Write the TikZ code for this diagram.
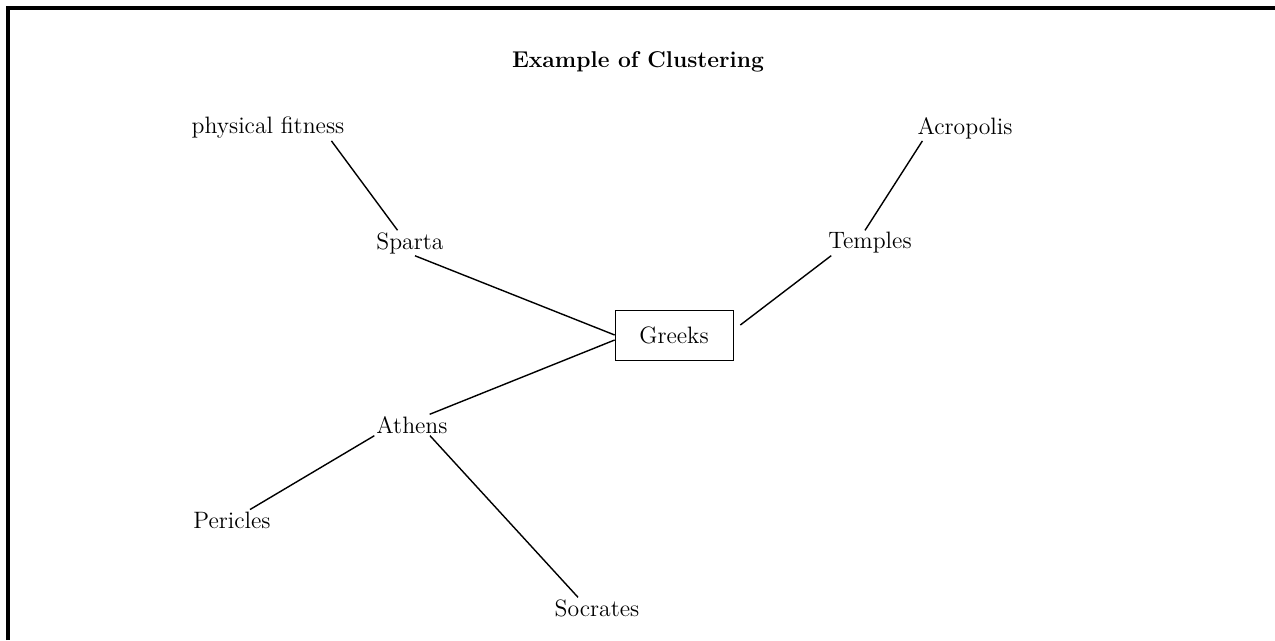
\documentclass[tikz,border=0pt]{standalone}
\usepackage{tikz}
\usetikzlibrary{positioning}

\begin{document}
\begin{tikzpicture}[x=0.02cm, y=-0.02cm,
    lbl/.style={inner sep=1pt, font=\fontsize{13.5}{15}\selectfont},
    hub/.style={draw, rectangle, minimum width=2.36cm, minimum height=1cm, font=\fontsize{13.5}{15}\selectfont},
    link/.style={line width=0.8pt}
  ]
    \useasboundingbox (0,0) rectangle (1275,640);
    % frame
    \draw[line width=2pt] (8,640) -- (8,8) -- (1275,8);

    \node[font=\fontsize{13}{15}\selectfont\bfseries] (title) at (638,62) {Example of Clustering};

    \node[hub] (g) at (674,335) {Greeks};
    \node[lbl] (sp) at (410,243) {Sparta};
    \node[lbl] (pf) at (268,128) {physical fitness};
    \node[lbl] (te) at (870,243) {Temples};
    \node[lbl] (ac) at (965,128) {Acropolis};
    \node[lbl] (at) at (412,425) {Athens};
    \node[lbl] (pe) at (232,520) {Pericles};
    \node[lbl] (so) at (597,608) {Socrates};

    \draw[link] ([xshift=-0.3cm]pf.south east) -- ([xshift=-0.25cm]sp.north);
    \draw[link] ([xshift=0.1cm]sp.south) -- (g.west);
    \draw[link] ([xshift=0.1cm]te.south west) -- ([xshift=0.14cm,yshift=0.2cm]g.east);
    \draw[link] ([xshift=0.14cm]ac.south west) -- ([xshift=-0.1cm]te.north);
    \draw[link] ([xshift=-0.4cm]at.north east) -- ([yshift=-0.1cm]g.west);
    \draw[link] (at.south west) -- ([xshift=0.36cm]pe.north);
    \draw[link] ([xshift=0.36cm]at.south) -- ([xshift=-0.38cm]so.north);
\end{tikzpicture}
\end{document}
